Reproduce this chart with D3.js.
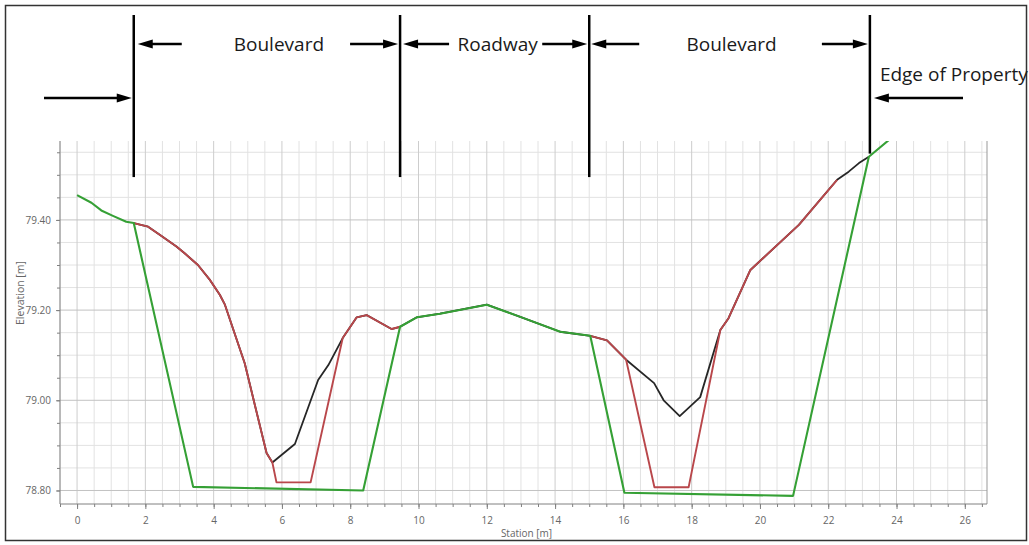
<!DOCTYPE html>
<html><head><meta charset="utf-8">
<script src="https://cdn.jsdelivr.net/npm/d3@7/dist/d3.min.js"></script>
<style>
body{margin:0;background:#fff;}
svg{display:block;font-family:"Open Sans",sans-serif;}
</style>
</head><body>
<svg id="c" width="1029" height="545"></svg>
<script>
// ---- data ----
const greenStation = [0, 0.42, 0.71, 1.05, 1.44, 1.66, 3.4, 8.38, 9.46, 9.95, 10.63, 12.0, 12.98, 14.15, 15.03, 16.03, 20.97, 23.19, 23.9];
const greenElev    = [79.455, 79.438, 79.421, 79.409, 79.396, 79.393, 78.808, 78.800, 79.163, 79.184, 79.192, 79.212, 79.185, 79.152, 79.143, 78.795, 78.788, 79.54, 79.585];

const redStation = [1.66, 2.08, 2.42, 2.91, 3.15, 3.54, 3.89, 4.18, 4.33, 4.91, 5.55, 5.72, 5.84, 6.84, 7.78, 8.19, 8.48, 9.21, 9.46,
                    15.03, 15.52, 16.08, 16.91, 17.91, 18.84, 19.08, 19.72, 21.14, 22.26];
const redElev    = [79.393, 79.385, 79.367, 79.341, 79.326, 79.300, 79.267, 79.234, 79.212, 79.082, 78.883, 78.862, 78.818, 78.818, 79.138, 79.184, 79.189, 79.158, 79.163,
                    79.143, 79.133, 79.090, 78.807, 78.807, 79.156, 79.182, 79.289, 79.389, 79.489];

const blackStation = [1.66, 2.08, 2.42, 2.91, 3.15, 3.54, 3.89, 4.18, 4.33, 4.91, 5.55, 5.72, 6.38, 7.06, 7.36, 7.78, 8.19, 8.48, 9.21, 9.46,
                      9.95, 10.63, 12.0, 12.98, 14.15, 15.03, 15.52, 16.08, 16.9, 17.18, 17.65, 18.25, 18.84, 19.08, 19.72, 21.14, 22.26, 22.6, 22.9, 23.19];
const blackElev    = [79.393, 79.385, 79.367, 79.341, 79.326, 79.300, 79.267, 79.234, 79.212, 79.082, 78.883, 78.862, 78.903, 79.045, 79.078, 79.138, 79.184, 79.189, 79.158, 79.163,
                      79.184, 79.192, 79.212, 79.185, 79.152, 79.143, 79.133, 79.090, 79.038, 79.000, 78.965, 79.007, 79.156, 79.182, 79.289, 79.389, 79.489, 79.507, 79.526, 79.54];

const xTickLabels = [0, 2, 4, 6, 8, 10, 12, 14, 16, 18, 20, 22, 24, 26];
const yTickLabels = [78.8, 79.0, 79.2, 79.4];

// annotation: zone boundaries (station) and labels
const boundaryStation = [1.66, 9.46, 15.0, 23.22];
const boundaryBottomElev = [79.495, 79.495, 79.495, 79.547];
const zoneLabels = ["Boulevard", "Roadway", "Boulevard"];
const edgeLabel = "Edge of Property";

// ---- layout ----
const svg = d3.select("#c");
const L = 60, R = 987, T = 141, B = 504;
const x = d3.scaleLinear().domain([-0.5, 26.65]).range([L, R]);
const y = d3.scaleLinear().domain([78.77, 79.575]).range([B, T]);

// frame
svg.append("rect").attr("x", 5.5).attr("y", 5.5).attr("width", 1021).attr("height", 535)
  .attr("fill", "none").attr("stroke", "#333").attr("stroke-width", 1.5);

// grid
const g = svg.append("g");
const xMinor = d3.range(-0.5, 26.66, 0.5).filter(v => Math.abs(v % 2) > 1e-6);
const xMajor = d3.range(0, 26.66, 2);
const yMinor = d3.range(78.8, 79.576, 0.05).filter(v => Math.abs(((v - 78.8) / 0.2) - Math.round((v - 78.8) / 0.2)) > 1e-3);
const yMajor = yTickLabels;

g.selectAll(".xmin").data(xMinor).join("line")
  .attr("x1", d => x(d)).attr("x2", d => x(d)).attr("y1", T).attr("y2", B)
  .attr("stroke", "#e2e2e2").attr("stroke-width", 1);
g.selectAll(".ymin").data(yMinor).join("line")
  .attr("x1", L).attr("x2", R).attr("y1", d => y(d)).attr("y2", d => y(d))
  .attr("stroke", "#e2e2e2").attr("stroke-width", 1);
g.selectAll(".xmaj").data(xMajor).join("line")
  .attr("x1", d => x(d)).attr("x2", d => x(d)).attr("y1", T).attr("y2", B)
  .attr("stroke", "#cdcdcd").attr("stroke-width", 1);
g.selectAll(".ymaj").data(yMajor).join("line")
  .attr("x1", L).attr("x2", R).attr("y1", d => y(d)).attr("y2", d => y(d))
  .attr("stroke", "#c2c2c2").attr("stroke-width", 1);

// right border of plot
svg.append("line").attr("x1", R).attr("x2", R).attr("y1", T).attr("y2", B)
  .attr("stroke", "#999").attr("stroke-width", 1);

// axes
const ax = svg.append("g").attr("transform", `translate(0,${B})`);
ax.call(d3.axisBottom(x).tickValues(d3.range(-0.5, 26.66, 0.5)).tickSize(3).tickFormat(""));
const ax2 = svg.append("g").attr("transform", `translate(0,${B})`);
ax2.call(d3.axisBottom(x).tickValues(xTickLabels).tickSize(5).tickPadding(8).tickFormat(d3.format("d")));
const ay = svg.append("g").attr("transform", `translate(${L},0)`);
ay.call(d3.axisLeft(y).tickValues(d3.range(78.8, 79.576, 0.05)).tickSize(3).tickFormat(""));
const ay2 = svg.append("g").attr("transform", `translate(${L},0)`);
ay2.call(d3.axisLeft(y).tickValues(yTickLabels).tickSize(4).tickPadding(5).tickFormat(d3.format(".2f")));
[ax, ax2, ay, ay2].forEach(a => {
  a.selectAll(".domain").attr("stroke", "#808080");
  a.selectAll(".tick line").attr("stroke", "#808080");
  a.selectAll("text").attr("fill", "#666").style("font-size", "10px").style("font-family", "'Open Sans',sans-serif");
});
ax.select(".domain").attr("d", `M${L},0H${R}`);
ay.select(".domain").attr("d", `M0,${B}V${T}`);
ax2.select(".domain").remove();
ay2.select(".domain").remove();

svg.append("text").attr("x", (L + R) / 2 + 3).attr("y", 537).attr("text-anchor", "middle")
  .attr("fill", "#666").style("font-size", "10px").text("Station [m]");
svg.append("text").attr("transform", "translate(24,293) rotate(-90)").attr("text-anchor", "middle")
  .attr("fill", "#666").style("font-size", "10.5px").text("Elevation [m]");

// lines
svg.append("clipPath").attr("id", "pc").append("rect").attr("x", L).attr("y", T).attr("width", R - L).attr("height", B - T);
const line = d3.line().x(d => x(d[0])).y(d => y(d[1]));
const lg = svg.append("g").attr("clip-path", "url(#pc)");
const series = [
  {st: blackStation, el: blackElev, color: "#262626", w: 1.8},
  {st: redStation.slice(0, 19), el: redElev.slice(0, 19), color: "#b9474b", w: 1.9},
  {st: redStation.slice(19), el: redElev.slice(19), color: "#b9474b", w: 1.9},
  {st: greenStation, el: greenElev, color: "#35a035", w: 2.1}
];
series.forEach(s => {
  lg.append("path").datum(s.st.map((v, i) => [v, s.el[i]]))
    .attr("d", line).attr("fill", "none").attr("stroke", s.color)
    .attr("stroke-width", s.w).attr("stroke-linejoin", "round");
});

// annotations
const an = svg.append("g");
boundaryStation.forEach((s, i) => {
  an.append("line").attr("x1", x(s)).attr("x2", x(s)).attr("y1", 15).attr("y2", y(boundaryBottomElev[i]))
    .attr("stroke", "#000").attr("stroke-width", 2.5);
});
function arrow(tail, tip, yy) {
  const dir = tip > tail ? 1 : -1;
  const hl = 15, hw = 4.5;
  an.append("line").attr("x1", tail).attr("x2", tip - dir * hl + dir * 2).attr("y1", yy).attr("y2", yy)
    .attr("stroke", "#000").attr("stroke-width", 2.5);
  an.append("path").attr("d", `M${tip},${yy}L${tip - dir * hl},${yy - hw}L${tip - dir * hl},${yy + hw}Z`).attr("fill", "#000");
}
const bx = boundaryStation.map(s => x(s));
arrow(44, bx[0] - 2, 98);
arrow(bx[0] + 48, bx[0] + 4, 44);
arrow(bx[1] - 50, bx[1] - 2, 44);
arrow(bx[1] + 49, bx[1] + 3, 44);
arrow(bx[2] - 47, bx[2] - 2, 44);
arrow(bx[2] + 50, bx[2] + 2, 44);
arrow(bx[3] - 48, bx[3] - 2, 44);
arrow(963, bx[3] + 4, 98);

const labelCenters = [(bx[0] + bx[1]) / 2 + 12, (bx[1] + bx[2]) / 2 + 3, (bx[2] + bx[3]) / 2 + 2];
zoneLabels.forEach((t, i) => {
  an.append("text").attr("x", labelCenters[i]).attr("y", 50.5).attr("text-anchor", "middle")
    .attr("fill", "#1a1a1a").style("font-size", "19px").text(t);
});
an.append("text").attr("x", bx[3] + 10).attr("y", 80.5).attr("fill", "#1a1a1a").style("font-size", "19px").text(edgeLabel);
</script>
</body></html>
